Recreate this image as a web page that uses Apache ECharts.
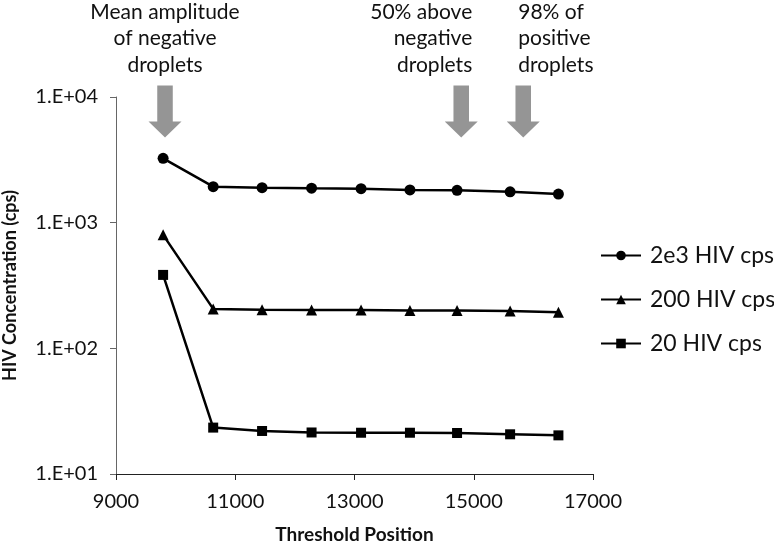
<!DOCTYPE html>
<html><head><meta charset="utf-8">
<script src="https://cdn.jsdelivr.net/npm/echarts@6/dist/echarts.min.js"></script>
<style>html,body{margin:0;padding:0;background:#fff}#c{width:774px;height:544px}</style>
</head><body><div id="c"></div>
<script>
var thresholds = [9790, 10630, 11450, 12280, 13110, 13930, 14720, 15610, 16420];
var s2e3 = [3250, 1935, 1900, 1880, 1865, 1820, 1810, 1760, 1690];
var s200 = [800, 206, 203, 202, 202, 200, 200, 198, 194];
var s20 = [384, 23.4, 22.0, 21.4, 21.3, 21.3, 21.2, 20.7, 20.3];
var seriesNames = ['2e3 HIV cps', '200 HIV cps', '20 HIV cps'];
var arrowX = [9822, 14790, 15830];
var arrowTexts = [['Mean amplitude', 'of negative', 'droplets'], ['50% above', 'negative', 'droplets'], ['98% of', 'positive', 'droplets']];
var arrowAlign = ['center', 'right', 'left'];
var yTicks = ['1.E+01', '1.E+02', '1.E+03', '1.E+04'];

var FONT = 'Lato';
function pairs(v){ return thresholds.map(function(x,i){ return [x, v[i]]; }); }
var arrowPath = 'path://M9,0 L25,0 L25,36 L34,36 L17,52 L0,36 L9,36 Z';
var chart = echarts.init(document.getElementById('c'));
var lineStyle = {color:'#000', width:2.5};
function mk(name, data, symbol, size){
  return {name:name, type:'line', data:pairs(data), symbol:symbol, symbolSize:size,
    itemStyle:{color:'#000'}, lineStyle:lineStyle, showAllSymbol:true, z:3};
}
chart.setOption({
  animation:false,
  textStyle:{fontFamily:FONT},
  grid:{left:116, right:181, top:97, bottom:70, containLabel:false, outerBoundsMode:'none'},
  xAxis:{type:'value', min:9000, max:17000, interval:2000,
    axisLine:{lineStyle:{color:'#222', width:1}},
    axisTick:{show:true, length:6, lineStyle:{color:'#222'}},
    axisLabel:{color:'#111', fontSize:20, fontFamily:FONT, margin:18,
      formatter:function(v){ return String(v); }},
    splitLine:{show:false},
    name:'Threshold Position', nameLocation:'middle', nameGap:51,
    nameTextStyle:{color:'#111', fontSize:19, fontWeight:'bold', fontFamily:FONT}},
  yAxis:{type:'log', logBase:10, min:10, max:10000,
    axisLine:{show:true, lineStyle:{color:'#666', width:1}},
    axisTick:{show:true, length:6, lineStyle:{color:'#666'}},
    axisLabel:{color:'#111', fontSize:20, fontFamily:FONT, margin:18,
      formatter:function(v){ var e=Math.round(Math.log10(v)); return yTicks[e-1]; }},
    splitLine:{show:false}, minorTick:{show:false},
    name:'HIV Concentration (cps)', nameLocation:'middle', nameGap:97, nameRotate:90,
    nameTextStyle:{color:'#111', fontSize:18, fontWeight:'bold', fontFamily:FONT}},
  legend:{orient:'vertical', left:595, top:239, itemGap:21, itemWidth:40, itemHeight:12,
    data:seriesNames,
    textStyle:{color:'#111', fontSize:23, fontFamily:FONT, padding:[0,0,0,4]}},
  series:[
    mk(seriesNames[0], s2e3, 'circle', 11),
    mk(seriesNames[1], s200, 'triangle', 11),
    mk(seriesNames[2], s20, 'rect', 10),
    {type:'scatter', data:arrowX.map(function(x){return [x, 7670];}), symbol:arrowPath,
     symbolSize:[33,52], itemStyle:{color:'#7a7a7a'}, silent:true, z:2, legendHoverLink:false}
  ]
});
var g = [];
arrowX.forEach(function(x, i){
  var p = chart.convertToPixel({gridIndex:0}, [x, 10000]);
  var px = p[0];
  if (arrowAlign[i]==='right') px = p[0] + 11;
  if (arrowAlign[i]==='left') px = p[0] - 5;
  arrowTexts[i].forEach(function(t, j){
    g.push({type:'text', x:px, y:12 + j*26.5, style:{text:t, fill:'#111', font:'21px '+FONT, align:arrowAlign[i], verticalAlign:'middle'}});
  });
});
chart.setOption({graphic:g});
</script></body></html>
